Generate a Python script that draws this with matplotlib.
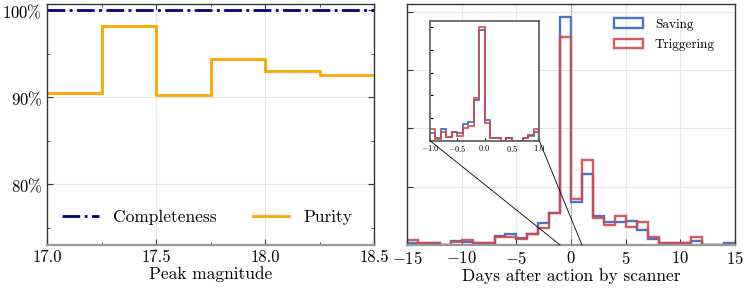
import matplotlib
matplotlib.use('Agg')
import matplotlib.pyplot as plt
import numpy as np
from matplotlib.patches import ConnectionPatch
from matplotlib.ticker import FuncFormatter, MultipleLocator

plt.rcParams['font.family'] = 'serif'
plt.rcParams['font.serif'] = ['cmr10']
plt.rcParams['mathtext.fontset'] = 'cm'
plt.rcParams['axes.formatter.use_mathtext'] = True

# left panel: purity / completeness per peak-magnitude bin
mag_edges = [17.0, 17.25, 17.5, 17.75, 18.0, 18.25, 18.5]
purity = [0.905, 0.982, 0.902, 0.944, 0.930, 0.925]
completeness = [1.0, 1.0, 1.0, 1.0, 1.0, 1.0]

# right panel: density of days after action by scanner (1-day bins)
day_edges = list(range(-15, 16))
saving = [0.003, 0.004, 0.004, 0.0, 0.0074, 0.005, 0.0034, 0.003, 0.016,
          0.019, 0.012, 0.019, 0.038, 0.055, 0.391,
          0.073, 0.122, 0.050, 0.039, 0.039, 0.042, 0.026, 0.010, 0.0034,
          0.0034, 0.0034, 0.0074, 0.0, 0.0, 0.0034]
triggering = [0.0086, 0.003, 0.004, 0.0, 0.005, 0.0086, 0.0034, 0.003, 0.014,
              0.014, 0.010, 0.019, 0.030, 0.055, 0.357,
              0.079, 0.146, 0.046, 0.035, 0.050, 0.031, 0.039, 0.013, 0.0034,
              0.0034, 0.0034, 0.013, 0.0, 0.0, 0.0]

# inset: zoom on -1..1 days (0.1-day bins)
inset_edges = [round(-1.0 + 0.1 * i, 1) for i in range(21)]
saving_inset = [0.32, 0.13, 0.51, 0.15, 0.37, 0.32, 0.72, 0.84, 1.79, 4.88,
                0.91, 0.12, 0.12, 0.0, 0.12, 0.0, 0.0, 0.12, 0.25, 0.40]
triggering_inset = [0.50, 0.07, 0.40, 0.18, 0.40, 0.22, 0.54, 0.66, 1.90, 5.03,
                    0.78, 0.12, 0.12, 0.0, 0.12, 0.0, 0.0, 0.10, 0.20, 0.50]

blue = '#3566c2'
red = '#d4474c'

fig = plt.figure(figsize=(7.47, 2.90), dpi=100)
ax1 = fig.add_axes([0.063, 0.155, 0.4377, 0.831])
ax2 = fig.add_axes([0.545, 0.155, 0.439, 0.831])


def style_axes(ax):
    for s in ['left', 'right', 'top']:
        ax.spines[s].set_color('#333333')
        ax.spines[s].set_linewidth(1.0)
    ax.spines['bottom'].set_color('#999999')
    ax.spines['bottom'].set_linewidth(1.6)
    ax.grid(True, color='#e6e6e6', linewidth=0.8)
    ax.set_axisbelow(True)


# ---- left panel
style_axes(ax1)
ax1.stairs(completeness, mag_edges, color='#000080', linewidth=2.0,
           linestyle='-.', label='Completeness', baseline=None)
ax1.stairs(purity, mag_edges, color='#ffa500', linewidth=2.0,
           label='Purity', baseline=None)
ax1.set_xlim(17.0, 18.5)
ax1.set_ylim(0.73, 1.007)
ax1.xaxis.set_major_locator(MultipleLocator(0.5))
ax1.xaxis.set_minor_locator(MultipleLocator(0.25))
ax1.yaxis.set_major_locator(MultipleLocator(0.1))
ax1.yaxis.set_minor_locator(MultipleLocator(0.05))
ax1.yaxis.set_major_formatter(FuncFormatter(lambda v, p: rf'${v * 100:.0f}\%$'))
ax1.xaxis.set_major_formatter(FuncFormatter(lambda v, p: f'{v:.1f}'))
ax1.tick_params(which='both', direction='in', top=True, right=True,
                labelsize=12, color='#333333')
ax1.tick_params(which='major', length=4)
ax1.tick_params(which='minor', length=2.5)
ax1.set_xlabel('Peak magnitude', fontsize=12.5, labelpad=1)
ax1.legend(loc='lower center', ncol=2, frameon=False, fontsize=12.5,
           handlelength=2.1, handletextpad=0.8, columnspacing=2.1,
           bbox_to_anchor=(0.49, 0.02))

# ---- right panel
style_axes(ax2)
ax2.hist(day_edges[:-1], bins=day_edges, weights=saving, histtype='step',
         color=blue, linewidth=1.7, alpha=0.9, label='Saving')
ax2.hist(day_edges[:-1], bins=day_edges, weights=triggering, histtype='step',
         color=red, linewidth=1.7, alpha=0.9, label='Triggering')
ax2.axvline(0, color='#888888', linestyle='--', linewidth=0.6, dashes=(2, 1.5))
ax2.set_xlim(-15, 15)
ax2.set_ylim(0, 0.413)
ax2.xaxis.set_major_locator(MultipleLocator(5))
ax2.yaxis.set_major_locator(MultipleLocator(0.1))
ax2.yaxis.set_major_formatter(FuncFormatter(lambda v, p: ''))
ax2.tick_params(which='both', direction='in', labelsize=12, length=4,
                color='#333333')
ax2.set_xlabel('Days after action by scanner', fontsize=12.5, labelpad=1)
ax2.legend(loc='upper right', frameon=False, fontsize=9.5,
           handlelength=2.2, handletextpad=0.9, labelspacing=0.65,
           bbox_to_anchor=(0.975, 0.99))

# ---- inset
axin = fig.add_axes([0.5756, 0.5148, 0.1463, 0.4138])
axin.hist(inset_edges[:-1], bins=inset_edges, weights=saving_inset,
          histtype='step', color=blue, linewidth=1.3, alpha=0.9)
axin.hist(inset_edges[:-1], bins=inset_edges, weights=triggering_inset,
          histtype='step', color=red, linewidth=1.3, alpha=0.9)
axin.set_xlim(-1, 1)
axin.set_ylim(0, 5.3)
axin.xaxis.set_major_locator(MultipleLocator(0.5))
axin.yaxis.set_major_locator(MultipleLocator(1))
axin.yaxis.set_major_formatter(FuncFormatter(lambda v, p: ''))
axin.tick_params(direction='in', labelsize=6, length=2, pad=1.5)
for s in axin.spines.values():
    s.set_color('#666666')
    s.set_linewidth(1.3)

for xa, xd in [(0, -1), (1, 1)]:
    con = ConnectionPatch(xyA=(xa, 0), coordsA=axin.transAxes,
                          xyB=(xd, 0), coordsB=ax2.transData,
                          color='black', linewidth=0.6)
    fig.add_artist(con)

fig.savefig('out.png', dpi=100)
